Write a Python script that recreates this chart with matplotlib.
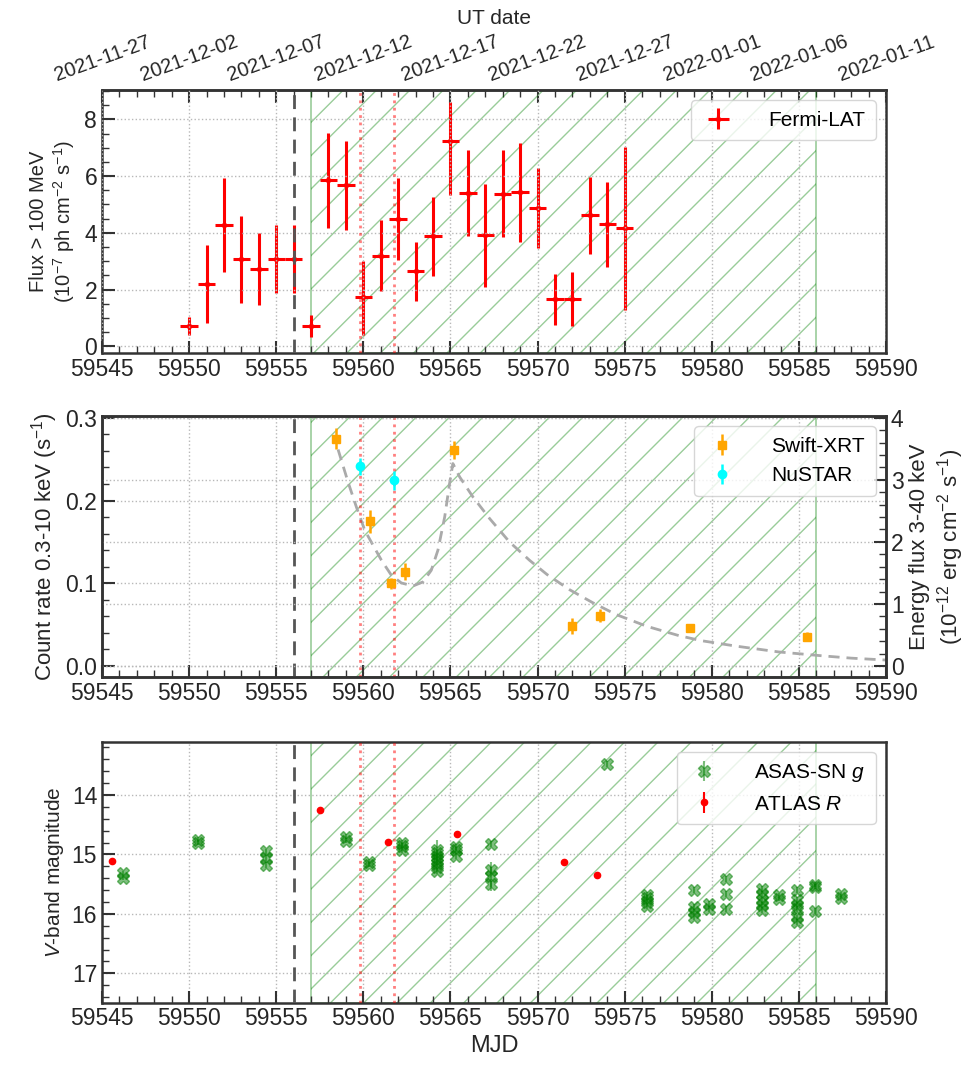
import matplotlib
matplotlib.use('Agg')
import matplotlib.pyplot as plt
from matplotlib.ticker import MultipleLocator

plt.rcParams['font.family'] = ['Liberation Sans', 'DejaVu Sans']
plt.rcParams['mathtext.fontset'] = 'custom'
plt.rcParams['mathtext.rm'] = 'Liberation Sans'
plt.rcParams['mathtext.it'] = 'Liberation Sans:italic'
plt.rcParams['hatch.linewidth'] = 1.0

# ---------------- data ----------------
fermi_mjd = [59550, 59551, 59552, 59553, 59554, 59555, 59556, 59557, 59558, 59559,
             59560, 59561, 59562, 59563, 59564, 59565, 59566, 59567, 59568, 59569,
             59570, 59571, 59572, 59573, 59574, 59575]
fermi_flux = [0.73, 2.20, 4.29, 3.06, 2.74, 3.08, 3.08, 0.70, 5.85, 5.68,
              1.72, 3.20, 4.50, 2.64, 3.89, 7.24, 5.42, 3.92, 5.38, 5.44,
              4.88, 1.66, 1.68, 4.62, 4.30, 4.18]
fermi_up = [1.03, 3.57, 5.94, 4.60, 4.00, 4.29, 4.29, 1.09, 7.51, 7.25,
            3.00, 4.47, 5.93, 3.66, 5.26, 8.60, 6.92, 5.71, 6.92, 7.18,
            6.29, 2.55, 2.62, 5.96, 5.78, 7.04]
fermi_lo = [0.41, 0.82, 2.63, 1.52, 1.46, 1.87, 1.87, 0.32, 4.18, 4.09,
            0.41, 1.94, 3.04, 1.60, 2.48, 5.32, 3.89, 2.10, 3.84, 3.68,
            3.45, 0.76, 0.73, 3.25, 2.81, 1.29]

xrt_mjd = [59558.42, 59560.37, 59561.57, 59562.41, 59565.18, 59572.0, 59573.58, 59578.74, 59585.46]
xrt_rate = [0.275, 0.175, 0.100, 0.114, 0.261, 0.048, 0.061, 0.0455, 0.0355]
xrt_err = [0.013, 0.014, 0.0065, 0.010, 0.0105, 0.0095, 0.0075, 0.005, 0.005]

nustar_mjd = [59559.83, 59561.76]
nustar_flux = [3.22, 2.99]
nustar_err = [0.14, 0.147]

model_mjd = [59558.55, 59559.12, 59559.60, 59560.08, 59560.56, 59561.04, 59561.61,
             59562.18, 59562.85, 59563.42, 59563.90, 59564.28, 59564.67, 59564.95,
             59565.14, 59565.53, 59566.29, 59567.25, 59568.39, 59569.54, 59570.55,
             59571.84, 59573.16, 59574.50, 59576.27, 59578.10, 59579.37, 59581.40,
             59583.84, 59586.40, 59588.0, 59590.0]
model_rate = [0.2617, 0.2225, 0.1923, 0.1641, 0.1459, 0.1278, 0.1097,
              0.1004, 0.0967, 0.1016, 0.1157, 0.1399, 0.1802, 0.2205,
              0.2447, 0.2285, 0.2044, 0.1782, 0.1499, 0.1278, 0.1105,
              0.0922, 0.0766, 0.0623, 0.0480, 0.0368, 0.0307, 0.0240,
              0.0170, 0.0122, 0.0095, 0.0072]

atlas_mjd = [59545.6, 59557.5, 59561.43, 59565.37, 59571.53, 59573.40]
atlas_mag = [15.11, 14.25, 14.79, 14.65, 15.12, 15.35]
atlas_err = [0.02, 0.02, 0.02, 0.02, 0.02, 0.02]

asas_mjd = [59546.2, 59546.2,
            59550.5, 59550.5,
            59554.4, 59554.4, 59554.4,
            59559.0, 59559.0,
            59560.3, 59560.3,
            59562.2, 59562.2, 59562.2,
            59564.2, 59564.2, 59564.2, 59564.2, 59564.2, 59564.2, 59564.2,
            59565.3, 59565.3, 59565.3,
            59567.3, 59567.3, 59567.3, 59567.3,
            59574.0,
            59576.3, 59576.3, 59576.3, 59576.3,
            59579.0, 59579.0, 59579.0, 59579.0,
            59579.85, 59579.85,
            59580.8, 59580.8, 59580.8,
            59582.9, 59582.9, 59582.9, 59582.9, 59582.9,
            59583.85, 59583.85,
            59584.9, 59584.9, 59584.9, 59584.9, 59584.9, 59584.9,
            59585.9, 59585.9, 59585.9,
            59587.4, 59587.4]
asas_mag = [15.31, 15.39,
            14.75, 14.80,
            14.95, 15.06, 15.17,
            14.70, 14.77,
            15.12, 15.17,
            14.80, 14.86, 14.92,
            14.93, 14.98, 15.04, 15.09, 15.15, 15.21, 15.28,
            14.87, 14.93, 15.02,
            14.83, 15.26, 15.37, 15.49,
            13.48,
            15.68, 15.74, 15.80, 15.86,
            15.60, 15.88, 15.96, 16.06,
            15.84, 15.92,
            15.41, 15.67, 15.91,
            15.58, 15.67, 15.77, 15.85, 15.94,
            15.69, 15.75,
            15.60, 15.77, 15.85, 15.91, 16.06, 16.14,
            15.51, 15.54, 15.95,
            15.67, 15.74]
asas_err = [0.04, 0.04,
            0.04, 0.04,
            0.05, 0.05, 0.05,
            0.04, 0.04,
            0.04, 0.04,
            0.05, 0.05, 0.05,
            0.17, 0.05, 0.05, 0.05, 0.05, 0.05, 0.05,
            0.05, 0.05, 0.05,
            0.05, 0.05, 0.25, 0.05,
            0.05,
            0.05, 0.05, 0.05, 0.05,
            0.05, 0.05, 0.05, 0.05,
            0.05, 0.05,
            0.05, 0.05, 0.05,
            0.05, 0.05, 0.05, 0.05, 0.05,
            0.04, 0.04,
            0.05, 0.05, 0.05, 0.05, 0.05, 0.05,
            0.04, 0.04, 0.05,
            0.04, 0.04]

date_tick_mjd = [59545, 59550, 59555, 59560, 59565, 59570, 59575, 59580, 59585, 59590]
date_tick_labels = ['2021-11-27', '2021-12-02', '2021-12-07', '2021-12-12', '2021-12-17',
                    '2021-12-22', '2021-12-27', '2022-01-01', '2022-01-06', '2022-01-11']

t_dashed = 59556.0
t_dotted = [59559.83, 59561.76]
span = (59557.0, 59586.0)
xlim = (59545, 59590)

# ---------------- style ----------------
SPINE = '#333333'
TXT = '#262626'
TICKFS = 16.5


def style(ax, right=False):
    for s in ax.spines.values():
        s.set_color(SPINE)
        s.set_linewidth(1.8)
    ax.tick_params(which='both', direction='in', colors=SPINE, labelcolor=TXT,
                   labelsize=TICKFS, width=1.5)
    ax.tick_params(which='major', length=9)
    ax.tick_params(which='minor', length=5, width=1.0)
    ax.grid(True, which='major', ls=':', color='#b8b8b8', lw=1.0)


def common(ax):
    ax.set_xlim(*xlim)
    ax.xaxis.set_major_locator(MultipleLocator(5))
    ax.xaxis.set_minor_locator(MultipleLocator(1))
    ax.axvspan(span[0], span[1], facecolor='none', edgecolor='green',
               hatch='/', alpha=0.4, lw=1.2, zorder=0.5)
    ax.axvline(t_dashed, color='#555555', ls=(0, (5, 3)), lw=2, zorder=3)
    for t in t_dotted:
        ax.axvline(t, color='red', alpha=0.5, ls=':', lw=2, zorder=3)


fig = plt.figure(figsize=(9.73, 10.67), dpi=100)
W, H = 973.0, 1067.0
L, R = 102.0, 886.0


def add(top, bot):
    return fig.add_axes([L / W, 1 - bot / H, (R - L) / W, (bot - top) / H])


# ---------------- top panel ----------------
ax1 = add(90, 353)
style(ax1)
ax1.set_axisbelow(False)
common(ax1)
yerr = [[f - l for f, l in zip(fermi_flux, fermi_lo)],
        [u - f for f, u in zip(fermi_flux, fermi_up)]]
ax1.errorbar(fermi_mjd, fermi_flux, yerr=yerr, xerr=0.5, fmt='o', ms=3,
             color='red', ecolor='red', elinewidth=2.2, capsize=0, label='Fermi-LAT',
             zorder=2)
ax1.set_ylim(-0.24, 9.04)
ax1.yaxis.set_major_locator(MultipleLocator(2))
ax1.yaxis.set_minor_locator(MultipleLocator(0.5))
ax1.set_ylabel('Flux > 100 MeV\n(10$^{-7}$ ph cm$^{-2}$ s$^{-1}$)', fontsize=14.5,
               color=TXT, labelpad=5)
leg = ax1.legend(loc='upper right', fontsize=15, handlelength=1.6, borderpad=0.5,
                 handletextpad=1.6)
leg.get_frame().set_edgecolor('#cccccc')

sec = ax1.secondary_xaxis('top')
sec.set_xticks(date_tick_mjd, labels=date_tick_labels)
sec.xaxis.set_minor_locator(MultipleLocator(1))
sec.tick_params(which='both', direction='in', colors=SPINE, labelcolor=TXT, labelsize=14.5,
                width=1.5)
sec.tick_params(which='major', length=9)
sec.tick_params(which='minor', length=5, width=1.0)
for lab in sec.get_xticklabels():
    lab.set_rotation(20)
sec.set_xlabel('UT date', fontsize=15, color=TXT, labelpad=6)
sec.spines['top'].set_linewidth(1.8)
sec.spines['top'].set_color(SPINE)

# ---------------- middle panel ----------------
ax2 = add(416, 677)
style(ax2)
common(ax2)
ax2.plot(model_mjd, model_rate, color='#aaaaaa', ls=(0, (4, 2.5)), lw=2, zorder=2)
h1 = ax2.errorbar(xrt_mjd, xrt_rate, yerr=xrt_err, fmt='s', ms=5.5, color='orange',
                  elinewidth=1.8, capsize=0, label='Swift-XRT', zorder=4)
ax2.set_ylim(-0.0133, 0.3022)
ax2.yaxis.set_major_locator(MultipleLocator(0.1))
ax2.yaxis.set_minor_locator(MultipleLocator(0.02))
ax2.set_ylabel('Count rate 0.3-10 keV (s$^{-1}$)', fontsize=16, color=TXT)

ax2r = ax2.twinx()
style(ax2r)
h2 = ax2r.errorbar(nustar_mjd, nustar_flux, yerr=nustar_err, fmt='o', ms=6, color='cyan',
                   elinewidth=1.8, capsize=0, label='NuSTAR', zorder=4)
ax2r.set_ylim(-0.0133 * 40 / 3, 0.3022 * 40 / 3)
ax2r.yaxis.set_major_locator(MultipleLocator(1))
ax2r.yaxis.set_minor_locator(MultipleLocator(0.2))
ax2r.set_ylabel('Energy flux 3-40 keV\n(10$^{-12}$ erg cm$^{-2}$ s$^{-1}$)', fontsize=16,
                color=TXT)
leg2 = ax2r.legend(handles=[h1, h2], loc='upper right', fontsize=15, handlelength=1.6,
                   handletextpad=1.6, borderpad=0.5)
leg2.get_frame().set_edgecolor('#cccccc')

# ---------------- bottom panel ----------------
ax3 = add(741.5, 1002.5)
style(ax3)
common(ax3)
hA = ax3.errorbar(asas_mjd, asas_mag, yerr=asas_err, fmt='X', ms=9, color='green',
                  alpha=0.5, elinewidth=1.5, capsize=0, label='ASAS-SN $g$', zorder=4)
hB = ax3.errorbar(atlas_mjd, atlas_mag, yerr=atlas_err, fmt='o', ms=4.5, color='red',
                  elinewidth=1.5, capsize=0, label='ATLAS $R$', zorder=4)
ax3.set_ylim(17.49, 13.1)
ax3.yaxis.set_major_locator(MultipleLocator(1))
ax3.yaxis.set_minor_locator(MultipleLocator(0.2))
ax3.set_ylabel('$V$-band magnitude', fontsize=15, color=TXT)
ax3.set_xlabel('MJD', fontsize=17, color=TXT, labelpad=3)
leg3 = ax3.legend(handles=[hA, hB], loc='upper right', fontsize=15, handlelength=1.6,
                  handletextpad=1.6, borderpad=0.5)
leg3.get_frame().set_edgecolor('#cccccc')

for ax in (ax1, ax2, ax3):
    ax.ticklabel_format(axis='x', useOffset=False, style='plain')

fig.savefig('out.png', dpi=100)
